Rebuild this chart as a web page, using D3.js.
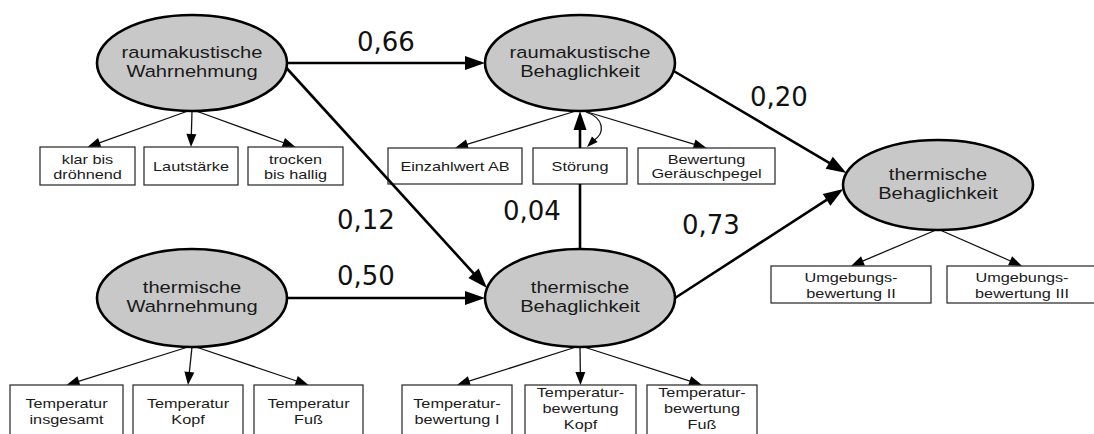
<!DOCTYPE html>
<meta charset="utf-8">
<style>
  body { margin: 0; background: white; }
  svg { display: block; }
  .latent text { font-family: "Liberation Sans", Arial, sans-serif; font-size: 16.5px; fill: #1a1a1a; }
  .box text { font-family: "Liberation Sans", Arial, sans-serif; font-size: 13px; fill: #1a1a1a; }
  .coef { font-family: "DejaVu Sans", Verdana, sans-serif; font-size: 26px; fill: #111; }
</style>
<body>
<div id="chart"></div>
<script src="https://d3js.org/d3.v7.min.js"></script>
<script>
// ---- data ----
const latentIds = ["akW", "akB", "thW", "thB", "ges"];
const latentLabels = [
  ["raumakustische", "Wahrnehmung"],
  ["raumakustische", "Behaglichkeit"],
  ["thermische", "Wahrnehmung"],
  ["thermische", "Behaglichkeit"],
  ["thermische", "Behaglichkeit"]
];
const indicatorLabels = {
  akW: [["klar bis", "dröhnend"], ["Lautstärke"], ["trocken", "bis hallig"]],
  akB: [["Einzahlwert AB"], ["Störung"], ["Bewertung", "Geräuschpegel"]],
  thW: [["Temperatur", "insgesamt"], ["Temperatur", "Kopf"], ["Temperatur", "Fuß"]],
  thB: [["Temperatur-", "bewertung I"], ["Temperatur-", "bewertung", "Kopf"], ["Temperatur-", "bewertung", "Fuß"]],
  ges: [["Umgebungs-", "bewertung II"], ["Umgebungs-", "bewertung III"]]
};
const pathFrom = ["akW", "akW", "thW", "thB", "akB", "thB"];
const pathTo   = ["akB", "thB", "thB", "akB", "ges", "ges"];
const pathBeta = [0.66, 0.12, 0.50, 0.04, 0.20, 0.73];

// ---- layout ----
const width = 1094, height = 434;
const x = d3.scaleLinear().domain([0, 1, 2]).range([192, 580, 938]);
const y = d3.scaleLinear().domain([0, 0.5, 1]).range([63, 185, 298]);
const latentPos = { akW: [0, 0], akB: [1, 0], thW: [0, 1], thB: [1, 1], ges: [2, 0.5] };
const latentR = { akW: [95, 48], akB: [95, 48], thW: [95, 49], thB: [95, 49], ges: [95, 45] };
// indicator boxes: centres, widths, top, height, line height
const boxLayout = {
  akW: { cx: [87.5, 191, 295.5], w: [95, 94, 95], top: 147, h: 38, lh: 15 },
  akB: { cx: [455, 580, 706.5], w: [134, 94, 137], top: 148, h: 36, lh: 14 },
  thW: { cx: [66.5, 188, 308.5], w: [113, 110, 109], top: 385, h: 54, lh: 16.8 },
  thB: { cx: [457, 580.5, 702], w: [110, 111, 110], top: 385, h: 54, lh: 16 },
  ges: { cx: [851, 1022], w: [160, 150], top: 266, h: 37, lh: 16 }
};
// ports on the ellipses (vertical offsets) and label anchors for each path
const portOut = [0, 5, 0, 0, 8, 0];
const portIn  = [0, -10, 0, 0, -12, 4];
const labelXY = [[357, 51], [337, 229], [337, 285], [503, 220], [750, 106], [682, 234]];
const sx = 1.22; // the source picture is stretched horizontally

const fmt = d3.formatLocale({ decimal: ",", thousands: ".", grouping: [3], currency: ["", ""] }).format(".2f");

const svg = d3.select("#chart").append("svg")
  .attr("width", width).attr("height", height);

function centre(id) { const p = latentPos[id]; return [x(p[0]), y(p[1])]; }
function side(id, dir, dy) {
  const [cx, cy] = centre(id), [rx, ry] = latentR[id];
  return [cx + dir * rx * Math.sqrt(1 - (dy / ry) * (dy / ry)), cy + dy];
}
function head(g, tip, from, len, w) {
  const a = Math.atan2(tip[1] - from[1], tip[0] - from[0]);
  const bx = tip[0] - len * Math.cos(a), by = tip[1] - len * Math.sin(a);
  const px = Math.sin(a) * w / 2, py = -Math.cos(a) * w / 2;
  g.append("polygon")
    .attr("points", [[tip[0], tip[1]], [bx + px, by + py], [bx - px, by - py]].map(d => d.join(",")).join(" "))
    .attr("fill", "#000");
  return [bx + 0.5 * Math.cos(a), by + 0.5 * Math.sin(a)];
}
function arrow(g, a, b, lw, len, w, stroke) {
  const base = head(g, b, a, len, w);
  g.insert("line", "polygon")
    .attr("x1", a[0]).attr("y1", a[1]).attr("x2", base[0]).attr("y2", base[1])
    .attr("stroke", stroke || "#000").attr("stroke-width", lw);
}

const gInd = svg.append("g");
const gPath = svg.append("g");

// indicator boxes and their arrows
latentIds.forEach(id => {
  const [cx, cy] = centre(id), ry = latentR[id][1];
  const L = boxLayout[id], n = indicatorLabels[id].length;
  indicatorLabels[id].forEach((lines, i) => {
    if (!(id === "akB" && i === 1)) {
      const off = n === 1 ? 0 : (i - (n - 1) / 2) * 4;
      arrow(gInd, [cx + off, cy + ry], [L.cx[i], L.top], 1.3, 13, 10, "#111");
    }
    const b = gInd.append("g").attr("class", "box");
    b.append("rect")
      .attr("x", L.cx[i] - L.w[i] / 2).attr("y", L.top)
      .attr("width", L.w[i]).attr("height", L.h)
      .attr("fill", "white").attr("stroke", "#333").attr("stroke-width", 1.3);
    // bottom row is cut by the picture edge: keep three-line blocks inside
    const mid = Math.min(L.top + L.h / 2, lines.length > 2 ? 408 : 411);
    lines.forEach((t, j) => {
      b.append("text")
        .attr("text-anchor", "middle")
        .attr("transform", `translate(${L.cx[i]},${mid + (j - (lines.length - 1) / 2) * L.lh + 5}) scale(${sx + 0.03},1)`)
        .text(t);
    });
  });
});

// structural paths
pathBeta.forEach((beta, k) => {
  const from = pathFrom[k], to = pathTo[k];
  if (from === "thB" && to === "akB") {
    // path runs through the "Störung" indicator
    const L = boxLayout.akB;
    const [fx, fy] = centre(from), [tx, ty] = centre(to);
    const bx = L.cx[1];
    gPath.append("line")
      .attr("x1", bx).attr("y1", fy - latentR[from][1])
      .attr("x2", bx).attr("y2", L.top + L.h)
      .attr("stroke", "#000").attr("stroke-width", 2.6);
    arrow(gPath, [bx, L.top], [bx, ty + latentR[to][1]], 2.6, 19, 13);
    // residual loop
    const s = [bx + 6, ty + latentR[to][1] + 1], e = [bx + 7, L.top - 1];
    gPath.append("path")
      .attr("d", `M${s[0]},${s[1]} C${bx + 24},${s[1] + 6} ${bx + 26},${e[1] - 14} ${e[0] + 6},${e[1] - 6}`)
      .attr("fill", "none").attr("stroke", "#111").attr("stroke-width", 1.3);
    head(gPath, e, [e[0] + 8, e[1] - 8], 11, 8);
  } else {
    const a = side(from, 1, portOut[k]), b = side(to, -1, portIn[k]);
    arrow(gPath, a, b, 2.6, 20, 14);
  }
  svg.append("text").attr("class", "coef")
    .attr("x", labelXY[k][0]).attr("y", labelXY[k][1])
    .text(fmt(beta));
});

// latent variables
latentIds.forEach((id, i) => {
  const [cx, cy] = centre(id), [rx, ry] = latentR[id];
  const g = svg.append("g").attr("class", "latent");
  g.append("ellipse")
    .attr("cx", cx).attr("cy", cy).attr("rx", rx).attr("ry", ry)
    .attr("fill", "#c8c8c8").attr("stroke", "#000").attr("stroke-width", 2.6);
  latentLabels[i].forEach((t, j) => {
    g.append("text")
      .attr("text-anchor", "middle")
      .attr("transform", `translate(${cx},${cy - 5 + j * 19}) scale(${sx},1)`)
      .text(t);
  });
});
</script>
</body>
